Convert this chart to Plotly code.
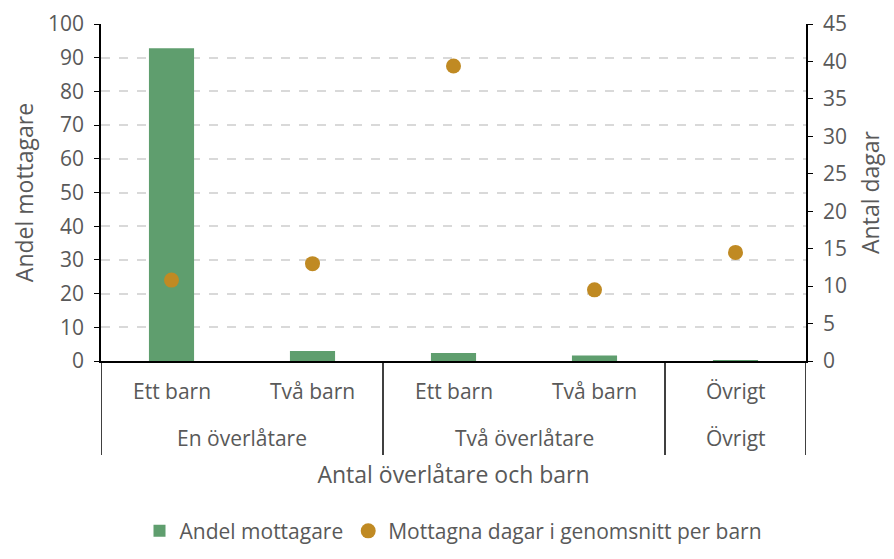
import plotly.graph_objects as go

groups = ["En överlåtare", "En överlåtare", "Två överlåtare", "Två överlåtare", "Övrigt"]
subcats = ["Ett barn", "Två barn", "Ett barn", "Två barn", "Övrigt"]
andel = [92.8, 3.0, 2.4, 1.6, 0.2]
dagar = [10.8, 13.0, 39.4, 9.5, 14.5]

font_family = "'Open Sans', sans-serif"
grey = "#595959"
tick_size = 21
title_size = 23

pos = list(range(len(subcats)))

fig = go.Figure()
fig.add_trace(go.Bar(
    x=pos, y=andel, name="Andel mottagare",
    marker=dict(color="#5F9E6E", line=dict(width=0)), yaxis="y"))
fig.add_trace(go.Scatter(
    x=pos, y=dagar, name="Mottagna dagar i genomsnitt per barn",
    mode="markers", marker=dict(color="#C08A23", size=15), yaxis="y2"))

# group spans from the category lists
spans = []
for i, g in enumerate(groups):
    if spans and spans[-1][0] == g:
        spans[-1][2] = i
    else:
        spans.append([g, i, i])

annotations = []
for i, s in enumerate(subcats):
    annotations.append(dict(x=i, xref="x", y=0, yref="paper", text=s, showarrow=False,
                            yanchor="middle", yshift=-30,
                            font=dict(size=tick_size, color=grey, family=font_family)))
for g, a, b in spans:
    annotations.append(dict(x=(a + b) / 2, xref="x", y=0, yref="paper", text=g, showarrow=False,
                            yanchor="middle", yshift=-77,
                            font=dict(size=tick_size, color=grey, family=font_family)))

plot_h = 337
div_bottom = -94 / plot_h
shapes = []
bounds = [spans[0][1] - 0.5] + [b + 0.5 for _, _, b in spans]
for xb in bounds:
    shapes.append(dict(type="line", xref="x", yref="paper", x0=xb, x1=xb, y0=0, y1=div_bottom,
                       line=dict(color="black", width=1.5)))

fig.update_layout(
    width=878, height=543,
    margin=dict(l=93, r=80, t=16, b=190, autoexpand=False),
    paper_bgcolor="white", plot_bgcolor="white",
    font=dict(family=font_family, size=tick_size, color=grey),
    bargap=0.68,
    showlegend=True,
    legend=dict(orientation="h", x=0.5, xanchor="center", y=-0.505, yanchor="middle",
                font=dict(size=tick_size, color=grey), itemwidth=30),
    annotations=annotations,
    shapes=shapes,
    xaxis=dict(range=[-0.5, len(subcats) - 0.5], showline=True, linecolor="black", linewidth=1.5,
               showticklabels=False, ticks="", showgrid=False, zeroline=False, automargin=False,
               title=dict(text="Antal överlåtare och barn", font=dict(size=title_size, color=grey),
                          standoff=105)),
    yaxis=dict(range=[0, 100], dtick=10, showline=True, linecolor="black", linewidth=1.5,
               ticks="outside", tickcolor="black", ticklen=5, automargin=False,
               ticklabelstandoff=6,
               showgrid=True, gridcolor="#D9D9D9", griddash="dash", gridwidth=1.5,
               zeroline=False, tickfont=dict(size=tick_size, color=grey),
               title=dict(text="Andel mottagare", font=dict(size=title_size, color=grey), standoff=19)),
    yaxis2=dict(range=[0, 45], dtick=5, overlaying="y", side="right", showline=True,
                linecolor="black", linewidth=1.5, ticks="outside", tickcolor="black", ticklen=5,
                ticklabelstandoff=6,
                showgrid=False, zeroline=False, automargin=False, tickfont=dict(size=tick_size, color=grey),
                title=dict(text="Antal dagar", font=dict(size=title_size, color=grey), standoff=19)),
)

fig.write_html("out.html")
